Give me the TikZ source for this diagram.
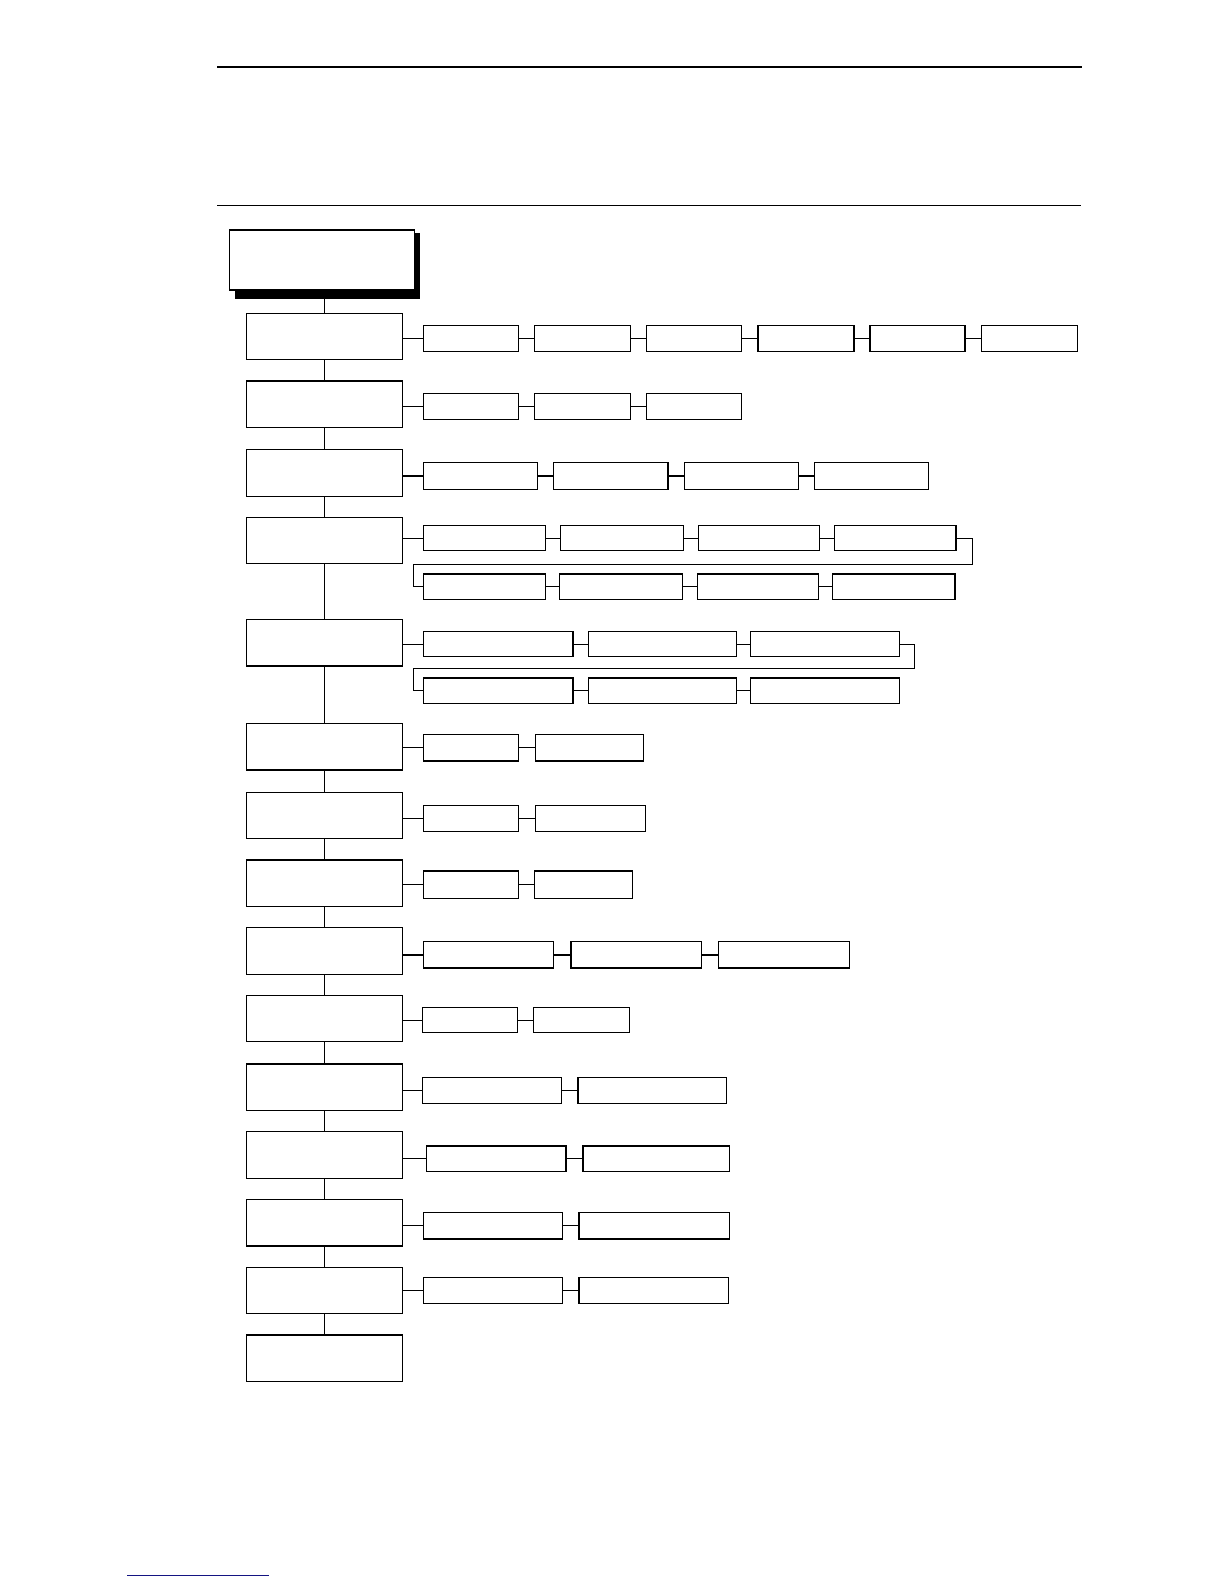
\documentclass[tikz,border=0pt]{standalone}
\usetikzlibrary{fit}
\definecolor{linkblue}{RGB}{20,20,130}
\newcommand\mkbox[5]{\node[sbox,fit={(#2,#3) (#4,#5)}] (#1) {};}
\begin{document}
\begin{tikzpicture}[x=0.7579pt,y=-0.7579pt,
  sbox/.style={draw,line width=0.9pt,inner sep=0pt,outer sep=0pt,fill=white},
  conn/.style={line width=0.9pt}]
\useasboundingbox (0,0) rectangle (1211.3,1567.5);
\fill[white] (0,0) rectangle (1211.3,1567.5);
% page rules
\draw[line width=1.5pt] (215,66) -- (1071,66);
\draw[line width=0.8pt] (215,203) -- (1070,203);
% top box with shadow
\fill[black] (232.6,230.3) rectangle (415.6,295.8);
\mkbox{top}{227}{227.6}{410.3}{286.9}
% main column
\mkbox{m1}{244}{310}{398.5}{356}
\mkbox{m2}{244}{377}{398.5}{423}
\mkbox{m3}{244}{445}{398.5}{491}
\mkbox{m4}{244}{512}{398.5}{558}
\mkbox{m5}{244}{613}{398.5}{659}
\mkbox{m6}{244}{716}{398.5}{762}
\mkbox{m7}{244}{784}{398.5}{830}
\mkbox{m8}{244}{851}{398.5}{897}
\mkbox{m9}{244}{918}{398.5}{964}
\mkbox{m10}{244}{985}{398.5}{1031}
\mkbox{m11}{244}{1053}{398.5}{1099}
\mkbox{m12}{244}{1120}{398.5}{1166}
\mkbox{m13}{244}{1187}{398.5}{1233}
\mkbox{m14}{244}{1254}{398.5}{1300}
\mkbox{m15}{244}{1321}{398.5}{1367}
% row 1
\mkbox{s1a}{419}{322}{513}{348}
\mkbox{s1b}{529}{322}{624}{348}
\mkbox{s1c}{640}{322}{734}{348}
\mkbox{s1d}{750}{322}{845}{348}
\mkbox{s1e}{861}{322}{955}{348}
\mkbox{s1f}{971}{322}{1066}{348}
% row 2
\mkbox{s2a}{419}{389}{513}{415}
\mkbox{s2b}{529}{389}{624}{415}
\mkbox{s2c}{640}{389}{734}{415}
% row 3
\mkbox{s3a}{419}{458}{532}{484}
\mkbox{s3b}{548}{458}{661}{484}
\mkbox{s3c}{677}{458}{790}{484}
\mkbox{s3d}{806}{458}{919}{484}
% row 4
\mkbox{s4a}{419}{520}{540}{545}
\mkbox{s4b}{555}{520}{676}{545}
\mkbox{s4c}{691}{520}{811}{545}
\mkbox{s4d}{826}{520}{946}{545}
\mkbox{s4e}{419}{568}{540}{593}
\mkbox{s4f}{554}{568}{675}{593}
\mkbox{s4g}{690}{568}{810}{593}
\mkbox{s4h}{824}{568}{945}{593}
% row 5
\mkbox{s5a}{419}{625}{567}{650}
\mkbox{s5b}{582}{625}{729}{650}
\mkbox{s5c}{743}{625}{890}{650}
\mkbox{s5d}{419}{671}{567}{696}
\mkbox{s5e}{582}{671}{729}{696}
\mkbox{s5f}{743}{671}{890}{696}
% row 6
\mkbox{s6a}{419}{727}{513}{753}
\mkbox{s6b}{530}{727}{637}{753}
% row 7
\mkbox{s7a}{419}{797}{513}{823}
\mkbox{s7b}{530}{797}{639}{823}
% row 8
\mkbox{s8a}{419}{862}{513}{889}
\mkbox{s8b}{529}{862}{626}{889}
% row 9
\mkbox{s9a}{419}{932}{548}{958}
\mkbox{s9b}{565}{932}{694}{958}
\mkbox{s9c}{711}{932}{841}{958}
% row 10
\mkbox{s10a}{418}{997}{512}{1022}
\mkbox{s10b}{528}{997}{623}{1022}
% row 11
\mkbox{s11a}{418}{1066}{556}{1092}
\mkbox{s11b}{572}{1066}{719}{1092}
% row 12
\mkbox{s12a}{422}{1134}{560}{1159}
\mkbox{s12b}{577}{1134}{722}{1159}
% row 13
\mkbox{s13a}{419}{1200}{557}{1226}
\mkbox{s13b}{573}{1200}{722}{1226}
% row 14
\mkbox{s14a}{419}{1264}{557}{1290}
\mkbox{s14b}{573}{1264}{721}{1290}
% main chain
\draw[conn] (m1.north) -- (m1.north |- top.south);
\foreach \a/\b in {1/2,2/3,3/4,4/5,5/6,6/7,7/8,8/9,9/10,10/11,11/12,12/13,13/14,14/15}
  \draw[conn] (m\a.south) -- (m\b.north);
% row connectors
\draw[conn] (m1.east |- s1a.west) -- (s1a.west) (s1a.east) -- (s1b.west) (s1b.east) -- (s1c.west)
  (s1c.east) -- (s1d.west) (s1d.east) -- (s1e.west) (s1e.east) -- (s1f.west);
\draw[conn] (m2.east |- s2a.west) -- (s2a.west) (s2a.east) -- (s2b.west) (s2b.east) -- (s2c.west);
\draw[conn] (m3.east |- s3a.west) -- (s3a.west) (s3a.east) -- (s3b.west) (s3b.east) -- (s3c.west)
  (s3c.east) -- (s3d.west);
\draw[conn] (m4.east |- s4a.west) -- (s4a.west) (s4a.east) -- (s4b.west) (s4b.east) -- (s4c.west)
  (s4c.east) -- (s4d.west);
\draw[conn] (s4e.east) -- (s4f.west) (s4f.east) -- (s4g.west) (s4g.east) -- (s4h.west);
\coordinate (r4) at (962,558.5);
\coordinate (l4) at (409.5,558.5);
\draw[conn] (s4d.east) -| (r4) -- (l4) |- (s4e.west);
\draw[conn] (m5.east |- s5a.west) -- (s5a.west) (s5a.east) -- (s5b.west) (s5b.east) -- (s5c.west);
\draw[conn] (s5d.east) -- (s5e.west) (s5e.east) -- (s5f.west);
\coordinate (r5) at (904.6,661.4);
\coordinate (l5) at (409.5,661.4);
\draw[conn] (s5c.east) -| (r5) -- (l5) |- (s5d.west);
\draw[conn] (m6.east |- s6a.west) -- (s6a.west) (s6a.east) -- (s6b.west);
\draw[conn] (m7.east |- s7a.west) -- (s7a.west) (s7a.east) -- (s7b.west);
\draw[conn] (m8.east |- s8a.west) -- (s8a.west) (s8a.east) -- (s8b.west);
\draw[conn] (m9.east |- s9a.west) -- (s9a.west) (s9a.east) -- (s9b.west) (s9b.east) -- (s9c.west);
\draw[conn] (m10.east |- s10a.west) -- (s10a.west) (s10a.east) -- (s10b.west);
\draw[conn] (m11.east |- s11a.west) -- (s11a.west) (s11a.east) -- (s11b.west);
\draw[conn] (m12.east |- s12a.west) -- (s12a.west) (s12a.east) -- (s12b.west);
\draw[conn] (m13.east |- s13a.west) -- (s13a.west) (s13a.east) -- (s13b.west);
\draw[conn] (m14.east |- s14a.west) -- (s14a.west) (s14a.east) -- (s14b.west);
% link underline
\draw[linkblue,line width=0.8pt] (125.7,1559) -- (266.2,1559);
\end{tikzpicture}
\end{document}
